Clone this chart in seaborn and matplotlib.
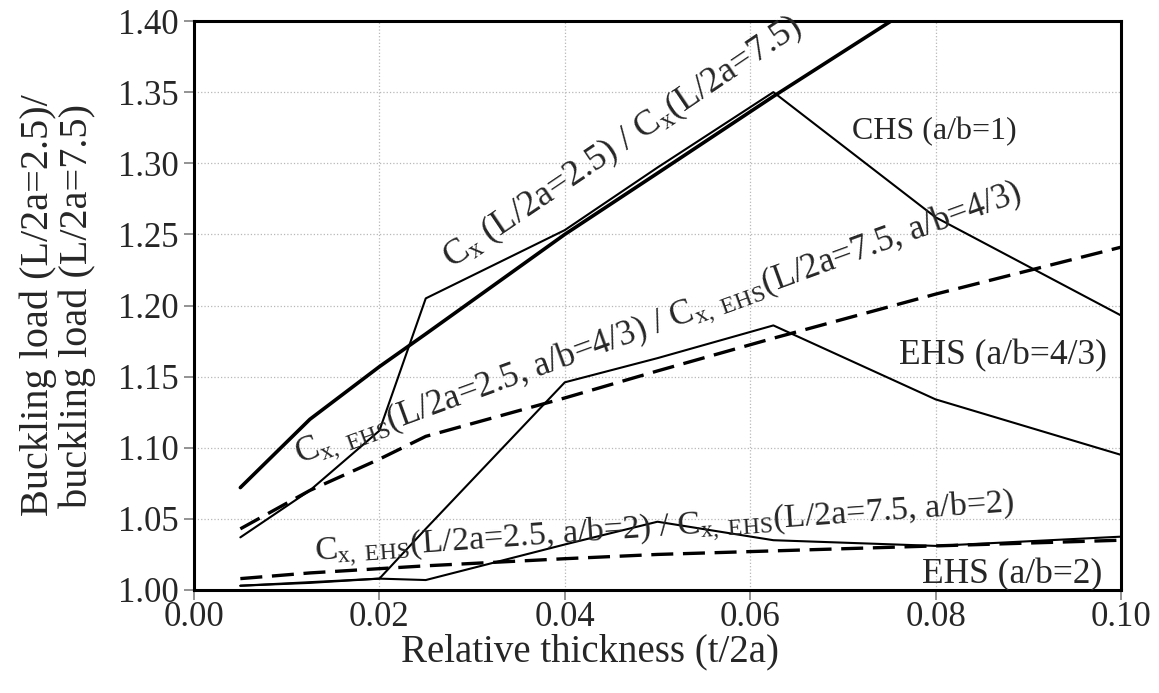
import numpy as np
import pandas as pd
import matplotlib
matplotlib.use("Agg")
import matplotlib.pyplot as plt
import seaborn as sns
from matplotlib.ticker import FormatStrFormatter

# relative thickness t/2a
thickness = [0.005, 0.0125, 0.02, 0.025, 0.04, 0.05, 0.0625, 0.08, 0.1]

# ratio buckling load (L/2a=2.5) / buckling load (L/2a=7.5)
cx_chs = [1.072, 1.120, 1.157, 1.180, 1.250, 1.293, 1.347, 1.420, 1.500]
chs = [1.037, 1.070, 1.112, 1.205, 1.253, 1.297, 1.350, 1.262, 1.193]
cx_ehs43 = [1.043, 1.070, 1.092, 1.108, 1.135, 1.154, 1.177, 1.208, 1.241]
ehs43 = [1.003, 1.005, 1.008, 1.043, 1.146, 1.163, 1.186, 1.134, 1.095]
cx_ehs2 = [1.008, 1.012, 1.015, 1.017, 1.022, 1.025, 1.0275, 1.031, 1.035]
ehs2 = [1.003, 1.0055, 1.008, 1.007, 1.032, 1.048, 1.035, 1.031, 1.0375]

x_ticks = [0.00, 0.02, 0.04, 0.06, 0.08, 0.10]
y_ticks = [1.00, 1.05, 1.10, 1.15, 1.20, 1.25, 1.30, 1.35, 1.40]

sns.set_style("white")
plt.rcParams['font.family'] = ['Liberation Serif', 'DejaVu Serif']
plt.rcParams['mathtext.fontset'] = 'custom'
plt.rcParams['mathtext.rm'] = 'Liberation Serif'
plt.rcParams['mathtext.it'] = 'Liberation Serif:italic'

fig = plt.figure(figsize=(11.59, 6.93), dpi=100)
ax = fig.add_axes([194/1159, 1 - 590/693, (1121-194)/1159, (590-21)/693])

dash = (0, (6.6, 2.9))
sns.lineplot(x=thickness, y=cx_chs, ax=ax, color='black', lw=2.6)
sns.lineplot(x=thickness, y=chs, ax=ax, color='black', lw=1.5)
sns.lineplot(x=thickness, y=cx_ehs43, ax=ax, color='black', lw=2.4, linestyle=dash)
sns.lineplot(x=thickness, y=ehs43, ax=ax, color='black', lw=1.5)
sns.lineplot(x=thickness, y=cx_ehs2, ax=ax, color='black', lw=2.4, linestyle=dash)
sns.lineplot(x=thickness, y=ehs2, ax=ax, color='black', lw=1.5)

ax.set_xlim(0, 0.10)
ax.set_ylim(1.00, 1.40)
ax.set_xticks(x_ticks)
ax.set_yticks(y_ticks)
ax.xaxis.set_major_formatter(FormatStrFormatter('%.2f'))
ax.yaxis.set_major_formatter(FormatStrFormatter('%.2f'))
ax.grid(True, linestyle=':', color='#b8b8b8', lw=0.9)
for s in ax.spines.values():
    s.set_color('black')
    s.set_linewidth(2.2)
ax.tick_params(axis='both', direction='out', length=7, width=1.2, color='#808080',
               labelsize=25, left=True, bottom=True)
ax.tick_params(axis='x', pad=1)
ax.tick_params(axis='y', pad=4)

ax.set_xlabel('Relative thickness (t/2a)', fontsize=28)
ax.xaxis.set_label_coords(0.427, -0.076)
ax.set_ylabel('Buckling load (L/2a=2.5)/\nbuckling load (L/2a=7.5)', fontsize=29,
              linespacing=1.05)
ax.yaxis.set_label_coords(-0.106, 0.5)

ax.text(0.0278, 1.226, r'C$_\mathrm{x}$ (L/2a=2.5) / C$_\mathrm{x}$(L/2a=7.5)',
        fontsize=26, rotation=34, rotation_mode='anchor', ha='left', va='baseline')
ax.text(0.0114, 1.089,
        r'C$_\mathrm{x,\ EHS}$(L/2a=2.5, a/b=4/3) / C$_\mathrm{x,\ EHS}$(L/2a=7.5, a/b=4/3)',
        fontsize=25, rotation=20, rotation_mode='anchor', ha='left', va='baseline')
ax.text(0.0131, 1.020,
        r'C$_\mathrm{x,\ EHS}$(L/2a=2.5, a/b=2) / C$_\mathrm{x,\ EHS}$(L/2a=7.5, a/b=2)',
        fontsize=24.5, rotation=4, rotation_mode='anchor', ha='left', va='baseline')
ax.text(0.0710, 1.317, 'CHS (a/b=1)', fontsize=23, ha='left', va='baseline')
ax.text(0.0985, 1.159, 'EHS (a/b=4/3)', fontsize=25.5, ha='right', va='baseline')
ax.text(0.0980, 1.005, 'EHS (a/b=2)', fontsize=25.5, ha='right', va='baseline')

fig.savefig('out.png', dpi=100)
